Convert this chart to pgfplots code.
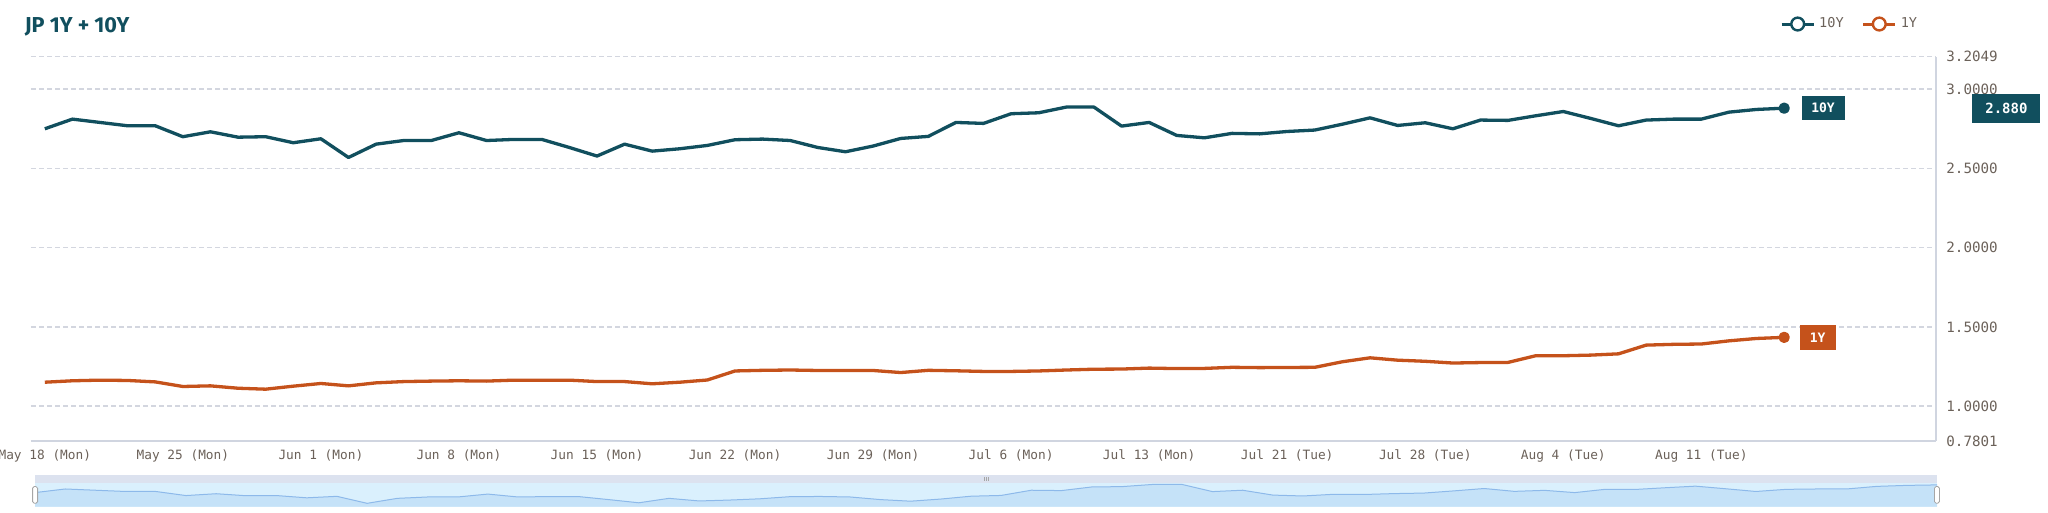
\documentclass[border=0pt]{standalone}
\usepackage{pgfplots}
\pgfplotsset{compat=1.18}
\usepackage{pgfplotstable}
\usepackage{fontspec}
\setmainfont{Fira Sans}
\newfontfamily\monof{DejaVu Sans Mono}
\definecolor{tealc}{HTML}{114F5E}
\definecolor{orangec}{HTML}{C5521B}
\definecolor{lblc}{HTML}{6B6159}
\definecolor{gridc}{HTML}{D3D6DF}
\definecolor{axc}{HTML}{D0D5E0}
\definecolor{bandc}{HTML}{DCE2EF}
\definecolor{bodyc}{HTML}{DAF0FD}
\definecolor{areac}{HTML}{C5E2F8}
\definecolor{minil}{HTML}{8DB9EA}

\pgfplotstableread{
i v
0 2.750
1 2.811
2 2.790
3 2.769
4 2.769
5 2.700
6 2.731
7 2.697
8 2.700
9 2.662
10 2.687
11 2.569
12 2.653
13 2.676
14 2.676
15 2.725
16 2.676
17 2.683
18 2.683
19 2.632
20 2.578
21 2.653
22 2.609
23 2.624
24 2.645
25 2.681
26 2.685
27 2.676
28 2.632
29 2.605
30 2.641
31 2.689
32 2.702
33 2.790
34 2.784
35 2.845
36 2.851
37 2.887
38 2.887
39 2.767
40 2.790
41 2.708
42 2.693
43 2.721
44 2.718
45 2.733
46 2.742
47 2.779
48 2.819
49 2.771
50 2.788
51 2.750
52 2.805
53 2.803
54 2.832
55 2.859
56 2.815
57 2.769
58 2.805
59 2.811
60 2.811
61 2.855
62 2.872
63 2.880
}\tenY

\pgfplotstableread{
i v
0 1.151
1 1.160
2 1.164
3 1.162
4 1.153
5 1.124
6 1.128
7 1.113
8 1.107
9 1.126
10 1.143
11 1.128
12 1.147
13 1.155
14 1.158
15 1.160
16 1.158
17 1.164
18 1.164
19 1.164
20 1.155
21 1.155
22 1.141
23 1.151
24 1.165
25 1.222
26 1.226
27 1.228
28 1.225
29 1.225
30 1.225
31 1.212
32 1.226
33 1.223
34 1.219
35 1.219
36 1.222
37 1.228
38 1.233
39 1.234
40 1.240
41 1.237
42 1.238
43 1.245
44 1.243
45 1.244
46 1.245
47 1.280
48 1.305
49 1.290
50 1.283
51 1.272
52 1.275
53 1.276
54 1.318
55 1.318
56 1.322
57 1.330
58 1.385
59 1.390
60 1.392
61 1.412
62 1.427
63 1.434
}\oneY

\begin{document}
\begin{tikzpicture}
\path[use as bounding box] (0,0) rectangle (1024pt,256.5pt);
\node[anchor=base west, font=\bfseries\fontsize{10.8}{12}\selectfont, text=tealc, inner sep=0pt] at (12.25pt,240pt) {JP 1Y + 10Y};

\begin{axis}[
  at={(15.5pt,36pt)}, anchor=south west,
  scale only axis, width=952.5pt, height=192.15pt,
  xmin=-0.5, xmax=68.5, ymin=0.7801, ymax=3.2049,
  axis x line*=bottom, axis y line*=right,
  x axis line style={-, draw=axc, line width=0.75pt},
  y axis line style={-, draw=axc, line width=0.75pt},
  major tick length=0pt,
  xtick={0,5,...,60},
  xticklabels={May 18 (Mon),May 25 (Mon),Jun 1 (Mon),Jun 8 (Mon),Jun 15 (Mon),Jun 22 (Mon),Jun 29 (Mon),Jul 6 (Mon),Jul 13 (Mon),Jul 21 (Tue),Jul 28 (Tue),Aug 4 (Tue),Aug 11 (Tue)},
  ytick={0.7801,1,1.5,2,2.5,3,3.2049},
  yticklabels={0.7801,1.0000,1.5000,2.0000,2.5000,3.0000,3.2049},
  ymajorgrids,
  major grid style={draw=gridc, line width=0.7pt, dash pattern=on 2.4pt off 1.6pt},
  xticklabel style={font=\monof\fontsize{6.4}{7}\selectfont, text=lblc, inner sep=0pt, anchor=north, yshift=-4pt},
  yticklabel style={font=\monof\fontsize{7.1}{8}\selectfont, text=lblc, inner sep=0pt, anchor=west, xshift=5pt},
  clip=false,
  legend style={draw=none, fill=none, at={(axis description cs:0.918,1.085)}, anchor=west, inner sep=0pt,
    font=\monof\fontsize{6.8}{8}\selectfont, text=lblc,
    /tikz/every even column/.append style={column sep=7pt}},
  legend columns=2,
  legend image code/.code={\draw[line width=1.5pt,#1] (0pt,0pt) -- (16pt,0pt); \draw[line width=1.2pt,#1,fill=white] (8pt,0pt) circle (3.2pt);},
]
\addplot[tealc, line width=1.65pt, line join=round, mark=*, mark indices={64}, mark size=2pt, mark options={fill=tealc}] table[x=i,y=v]{\tenY};
\addlegendentry{10Y}
\addplot[orangec, line width=1.65pt, line join=round, mark=*, mark indices={64}, mark size=2pt, mark options={fill=orangec}] table[x=i,y=v]{\oneY};
\addlegendentry{1Y}
\node[fill=tealc, text=white, font=\monof\bfseries\fontsize{6.5}{7}\selectfont, anchor=west, inner sep=0pt, minimum width=21.5pt, minimum height=12pt] at (axis cs:63,2.88) [xshift=8.5pt] {10Y};
\node[fill=orangec, text=white, font=\monof\bfseries\fontsize{6.5}{7}\selectfont, anchor=west, inner sep=0pt, minimum width=18pt, minimum height=12.5pt] at (axis cs:63,1.434) [xshift=7.5pt] {1Y};
\node[fill=tealc, text=white, font=\monof\bfseries\fontsize{7}{8}\selectfont, anchor=west, inner sep=0pt, minimum width=34pt, minimum height=14.5pt] at (axis cs:68.5,2.876) [xshift=18pt] {2.880};
\end{axis}

% data zoom slider
\fill[bodyc] (17.5pt,3.15pt) rectangle (968.5pt,14.85pt);
\fill[bandc] (17.5pt,14.85pt) rectangle (968.5pt,19pt);
\begin{axis}[
  at={(17.5pt,3.15pt)}, anchor=south west,
  scale only axis, width=951pt, height=11.7pt,
  xmin=0, xmax=63, ymin=2.512, ymax=2.907,
  hide axis,
]
\addplot[draw=none, fill=areac] table[x=i,y=v]{\tenY} \closedcycle;
\addplot[minil, line width=0.5pt] table[x=i,y=v]{\tenY};
\end{axis}
\draw[fill=white, draw=black!35, line width=0.4pt, rounded corners=0.8pt] (16.3pt,4.9pt) rectangle (18.8pt,13.2pt);
\draw[fill=white, draw=black!35, line width=0.4pt, rounded corners=0.8pt] (967.2pt,4.9pt) rectangle (969.7pt,13.2pt);
\draw[black!35, line width=0.3pt] (492pt,16pt) -- (492pt,18pt) (493pt,16pt) -- (493pt,18pt) (494pt,16pt) -- (494pt,18pt);
\end{tikzpicture}
\end{document}
